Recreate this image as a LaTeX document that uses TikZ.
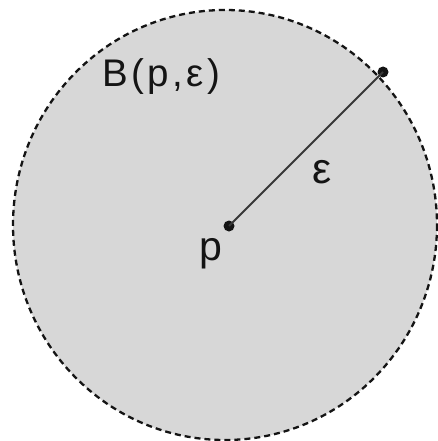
\documentclass[tikz,border=0pt]{standalone}
\usepackage{fontspec}
\setmainfont{Liberation Sans}
\definecolor{ballfill}{RGB}{215,215,215}
\definecolor{ink}{RGB}{20,20,20}
\tikzset{
  ball/.style={fill=ballfill, draw=ink, line width=2.3pt, dash pattern=on 6pt off 4pt},
  dotmark/.style={circle, fill=ink, inner sep=0pt, minimum size=11pt},
  radius line/.style={draw=ink!85, line width=1.9pt},
  lbl/.style={inner sep=0pt, text=ink}
}
\begin{document}
\begin{tikzpicture}[x=1pt,y=-1pt]
\useasboundingbox (0,0) rectangle (438,441);
\fill[white] (0,0) rectangle (438,441);
\draw[ball] (225,225) ellipse [x radius=212, y radius=215];
\node[dotmark] (p) at (229,226) {};
\node[dotmark] (q) at (383,72) {};
\draw[radius line] (p.center) -- (q.center);
\node[lbl, anchor=base west, font=\fontsize{38.5}{44}\selectfont\addfontfeature{LetterSpace=9}] (ball) at (102,87) {B(p,ε)};
\node[lbl, anchor=base, font=\fontsize{41}{46}\selectfont] (plabel) at (211,260) {p};
\node[lbl, anchor=base, font=\fontsize{43}{48}\selectfont] (eps) at (322,183) {ε};
\end{tikzpicture}
\end{document}
